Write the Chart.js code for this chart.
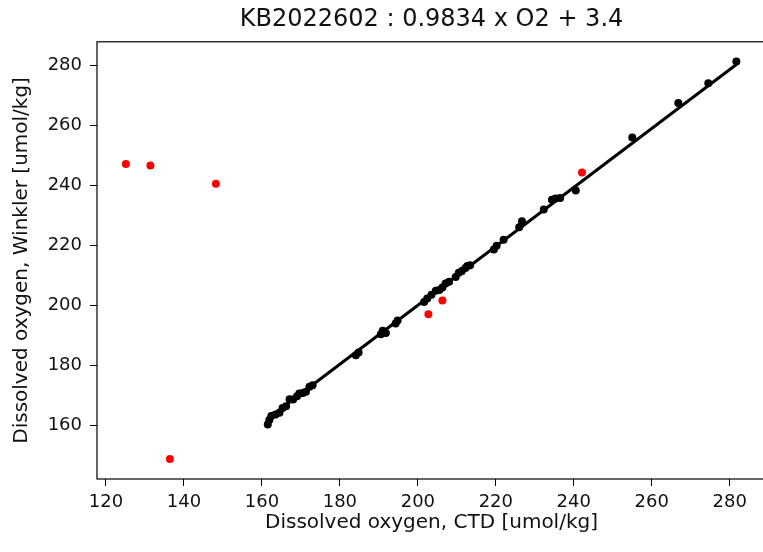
<!DOCTYPE html>
<html>
<head>
<meta charset="utf-8">
<script src="https://cdn.jsdelivr.net/npm/chart.js@4"></script>
<style>
    body { margin: 0; overflow: hidden; background: #fff; }
</style>
</head>
<body>
<canvas id="myChart" width="770" height="552"></canvas>
<script>
// accepted samples: CTD oxygen vs Winkler oxygen
const ctdGood = [161.5, 161.9, 162.4, 163.5, 164.5, 165.3, 166.2, 167.1, 168.0, 169.0,
    169.6, 170.5, 171.3, 172.2, 173.0, 184.1, 184.8, 190.5, 191.0, 191.8,
    194.3, 194.8, 201.6, 202.4, 203.5, 204.6, 205.5, 206.3, 207.1, 208.0,
    209.7, 210.5, 211.3, 212.2, 212.7, 213.4, 219.5, 220.2, 222.0, 226.0,
    226.7, 232.3, 234.4, 235.3, 236.5, 240.5, 255.0, 266.8, 274.5, 281.7];
const winklerGood = [160.3, 161.8, 163.1, 163.6, 164.2, 165.8, 166.4, 168.7, 168.6, 169.7,
    170.6, 170.8, 171.2, 172.9, 173.4, 183.4, 184.3, 190.4, 191.6, 190.8,
    194.0, 195.0, 201.2, 202.3, 203.6, 204.9, 205.2, 206.0, 207.3, 207.9,
    209.5, 210.9, 211.5, 212.5, 213.2, 213.4, 218.7, 219.9, 221.9, 226.1,
    228.1, 232.0, 235.3, 235.7, 235.9, 238.4, 256.1, 267.6, 274.2, 281.4];

// rejected samples (red)
const ctdBad = [125.1, 131.4, 148.2, 136.4, 202.7, 206.3, 242.1];
const winklerBad = [247.2, 246.7, 240.6, 148.8, 197.1, 201.7, 244.4];

// fit from the title
const slope = 0.9834;
const intercept = 3.4;
const stationName = "KB2022602";

const xTicks = [120, 140, 160, 180, 200, 220, 240, 260, 280];
const yTicks = [160, 180, 200, 220, 240, 260, 280];

const goodPoints = ctdGood.map((x, i) => ({ x: x, y: winklerGood[i] }));
const badPoints = ctdBad.map((x, i) => ({ x: x, y: winklerBad[i] }));
const xLo = Math.min(...ctdGood);
const xHi = Math.max(...ctdGood);
const fitLine = [
    { x: xLo, y: slope * xLo + intercept },
    { x: xHi, y: slope * xHi + intercept }
];

const fontFamily = "'DejaVu Sans', sans-serif";

// black frame round the plot area, like matplotlib
const frame = {
    id: 'frame',
    afterDraw(chart) {
        const { ctx, chartArea } = chart;
        ctx.save();
        ctx.strokeStyle = '#000';
        ctx.lineWidth = 1.2;
        ctx.strokeRect(chartArea.left, chartArea.top, chartArea.right - chartArea.left, chartArea.bottom - chartArea.top);
        ctx.restore();
    }
};

const config = {
    type: 'scatter',
    data: {
        datasets: [
            {
                label: 'fit',
                data: fitLine,
                showLine: true,
                borderColor: '#000',
                borderWidth: 3,
                pointRadius: 0,
                order: 0
            },
            {
                label: 'good',
                data: goodPoints,
                backgroundColor: '#000',
                borderWidth: 0,
                pointRadius: 4,
                order: 1
            },
            {
                label: 'bad',
                data: badPoints,
                backgroundColor: '#f00',
                borderWidth: 0,
                pointRadius: 4,
                order: 2
            }
        ]
    },
    options: {
        responsive: false,
        animation: false,
        devicePixelRatio: 1,
        layout: { padding: { left: 0, right: 2, top: 0, bottom: 0 } },
        plugins: {
            legend: { display: false },
            tooltip: { enabled: false },
            title: {
                display: true,
                fullSize: false,
                text: stationName + ' : ' + slope.toFixed(4) + ' x O2 + ' + intercept.toFixed(1),
                color: '#111',
                font: { family: fontFamily, size: 24, weight: 'normal' },
                padding: { top: 5, bottom: 8 }
            }
        },
        scales: {
            x: {
                type: 'linear',
                min: 117.7,
                max: 289.3,
                afterFit: (scale) => { scale.height = 73; },
                afterBuildTicks: (scale) => { scale.ticks = xTicks.map(v => ({ value: v })); },
                border: { display: false },
                grid: { drawOnChartArea: false, color: '#000', tickLength: 7, tickWidth: 1 },
                ticks: {
                    color: '#111',
                    padding: 6,
                    maxRotation: 0,
                    font: { family: fontFamily, size: 18 }
                },
                title: {
                    display: true,
                    text: 'Dissolved oxygen, CTD [umol/kg]',
                    color: '#111',
                    font: { family: fontFamily, size: 20 },
                    padding: { top: 0, bottom: 17 }
                }
            },
            y: {
                type: 'linear',
                min: 142.1,
                max: 288,
                afterFit: (scale) => { scale.width = 97; },
                afterBuildTicks: (scale) => { scale.ticks = yTicks.map(v => ({ value: v })); },
                border: { display: false },
                grid: { drawOnChartArea: false, color: '#000', tickLength: 7, tickWidth: 1 },
                ticks: {
                    color: '#111',
                    padding: 8,
                    font: { family: fontFamily, size: 18 }
                },
                title: {
                    display: true,
                    text: 'Dissolved oxygen, Winkler [umol/kg]',
                    color: '#111',
                    font: { family: fontFamily, size: 20 },
                    padding: { top: 10, bottom: 0 }
                }
            }
        }
    },
    plugins: [frame]
};

const canvas = document.getElementById('myChart');
window.myChart = new Chart(canvas, config);
</script>
</body>
</html>
